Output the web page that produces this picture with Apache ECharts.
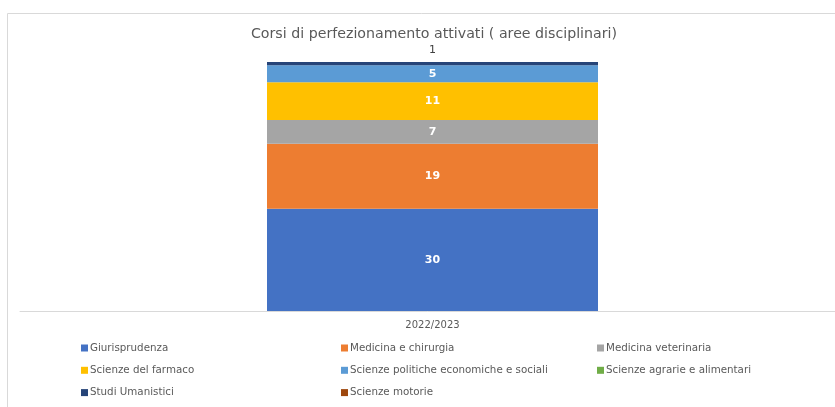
<!DOCTYPE html>
<html>
<head>
<meta charset="utf-8">
<script src="https://cdn.jsdelivr.net/npm/echarts@6/dist/echarts.min.js"></script>
<style>
  html, body { margin: 0; padding: 0; background: #fff; }
  #chart { width: 835px; height: 407px; }
</style>
</head>
<body>
<div id="chart"></div>
<script>
// dati
const categories = ['2022/2023'];
const seriesNames = [
  'Giurisprudenza', 'Medicina e chirurgia', 'Medicina veterinaria',
  'Scienze del farmaco', 'Scienze politiche economiche e sociali',
  'Scienze agrarie e alimentari', 'Studi Umanistici', 'Scienze motorie'
];
const seriesValues = [30, 19, 7, 11, 5, 0, 1, 0];
const seriesColors = ['#4472C4', '#ED7D31', '#A5A5A5', '#FFC000', '#5B9BD5', '#70AD47', '#264478', '#9E480E'];

// colonne della legenda
const legendCols = [
  { left: 76, names: ['Giurisprudenza', 'Scienze del farmaco', 'Studi Umanistici'] },
  { left: 336, names: ['Medicina e chirurgia', 'Scienze politiche economiche e sociali', 'Scienze motorie'] },
  { left: 592, names: ['Medicina veterinaria', 'Scienze agrarie e alimentari'] }
];

const chart = echarts.init(document.getElementById('chart'));
const font = 'DejaVu Sans';

const series = seriesNames.map((name, i) => ({
  name: name,
  type: 'bar',
  stack: 'tot',
  barWidth: 331,
  data: [seriesValues[i]],
  itemStyle: { color: seriesColors[i] },
  label: {
    show: seriesValues[i] > 0,
    position: name === 'Studi Umanistici' ? 'top' : 'inside',
    color: name === 'Studi Umanistici' ? '#404040' : '#fff',
    fontWeight: name === 'Studi Umanistici' ? 'normal' : 'bold',
    fontSize: 11,
    fontFamily: font,
    distance: 6
  }
}));

const option = {
  animation: false,
  title: {
    text: 'Corsi di perfezionamento attivati ( aree disciplinari)',
    left: 429,
    textAlign: 'center',
    top: 22,
    textStyle: { fontFamily: font, fontSize: 14.2, fontWeight: 'normal', color: '#595959' }
  },
  graphic: [{
    type: 'rect',
    shape: { x: 7.5, y: 13.5, width: 900, height: 500 },
    style: { fill: 'none', stroke: '#d9d9d9', lineWidth: 1 },
    silent: true
  }],
  legend: legendCols.map(col => ({
    orient: 'vertical',
    left: col.left,
    top: 338,
    itemWidth: 7,
    itemHeight: 7,
    itemGap: 12.3,
    icon: 'rect',
    data: col.names,
    textStyle: { fontFamily: font, fontSize: 10.3, color: '#595959', padding: [0, 0, 0, -3] }
  })),
  grid: { left: 20, width: 825, top: 38, bottom: 96, outerBoundsMode: 'none' },
  xAxis: {
    type: 'category',
    data: categories,
    axisTick: { show: false },
    axisLine: { lineStyle: { color: '#d9d9d9' } },
    axisLabel: { fontFamily: font, fontSize: 10, color: '#595959', margin: 9 }
  },
  yAxis: {
    type: 'value',
    min: 0,
    max: 80,
    show: false,
    splitLine: { show: false }
  },
  series: series
};

chart.setOption(option);
</script>
</body>
</html>
